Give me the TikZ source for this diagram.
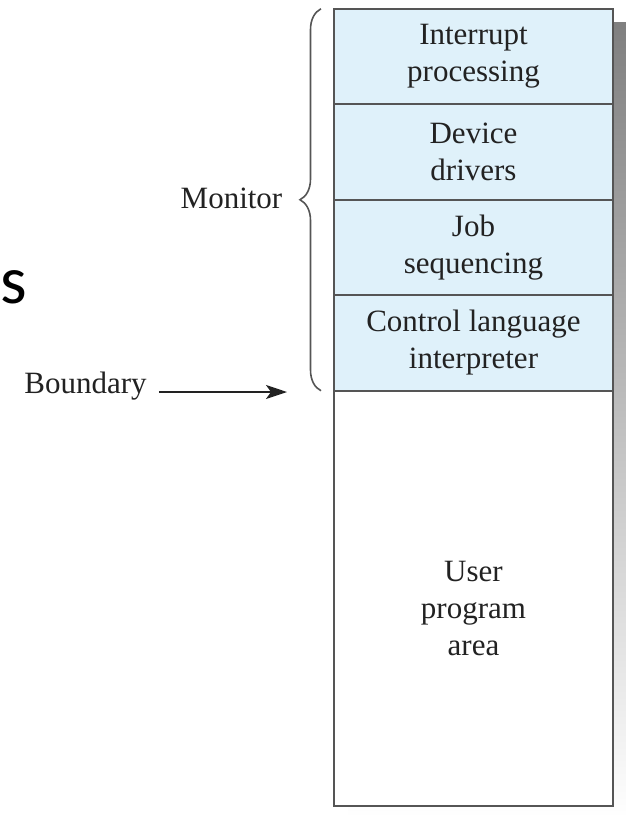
\documentclass[tikz,border=0pt]{standalone}
\usepackage{fontspec}
\setmainfont{Liberation Serif}
\newfontfamily\sfbig{Carlito}
\usetikzlibrary{positioning,arrows.meta,decorations.pathreplacing}
\definecolor{monfill}{HTML}{DFF1FA}
\definecolor{edge}{HTML}{555555}
\definecolor{shade}{HTML}{D6D6D6}
\definecolor{ink}{HTML}{222222}

\begin{document}
\begin{tikzpicture}[x=1pt,y=-1pt,
    memblk/.style={draw=edge,line width=2pt,fill=monfill,minimum width=279pt,
      minimum height=95.5pt,inner sep=0pt,outer sep=0pt,align=center,text=ink,
      font=\fontsize{31}{37}\selectfont},
    lbl/.style={text=ink,inner sep=0pt,font=\fontsize{31}{37}\selectfont},
    arrow/.style={-{Stealth[length=21pt,width=14pt,inset=5pt]},line width=1.7pt,draw=ink}]
    \useasboundingbox (0,0) rectangle (625,815);
    % shadow behind the memory
    \fill[shade] (348,22) rectangle (630,820);
    \foreach \n/\t [count=\k] in {intr/{Interrupt\\processing},drv/{Device\\drivers},
      job/{Job\\sequencing},cli/{Control language\\interpreter}}{
      \node[memblk] (\n) at (473.5,{56.5+95.5*(\k-1)}) {\t};
    }
    \node[memblk,fill=white,minimum height=415pt,below=0pt of cli] (user) {};
    \node[lbl,align=center] (usertxt) at ([yshift=-10pt]user.center) {User\\program\\area};
    \draw[edge,line width=1.8pt] (intr.north west) rectangle (user.south east);
    % monitor brace
    \draw[edge,line width=1.6pt,decorate,decoration={brace,amplitude=21pt}]
      ([xshift=-13pt]cli.south west) -- ([xshift=-13pt]intr.north west);
    \node[lbl,anchor=base] (mon) at (231.5,208) {Monitor};
    \node[lbl,anchor=base,inner xsep=12pt] (bnd) at (85.5,393) {Boundary};
    \coordinate (bndpt) at (287,392);
    \draw[arrow] (bnd.east |- bndpt) -- (bndpt);
    \node[font=\sfbig\fontsize{68}{80}\selectfont,anchor=base west,inner sep=0pt] (s) at (0.5,303) {s};
\end{tikzpicture}
\end{document}
